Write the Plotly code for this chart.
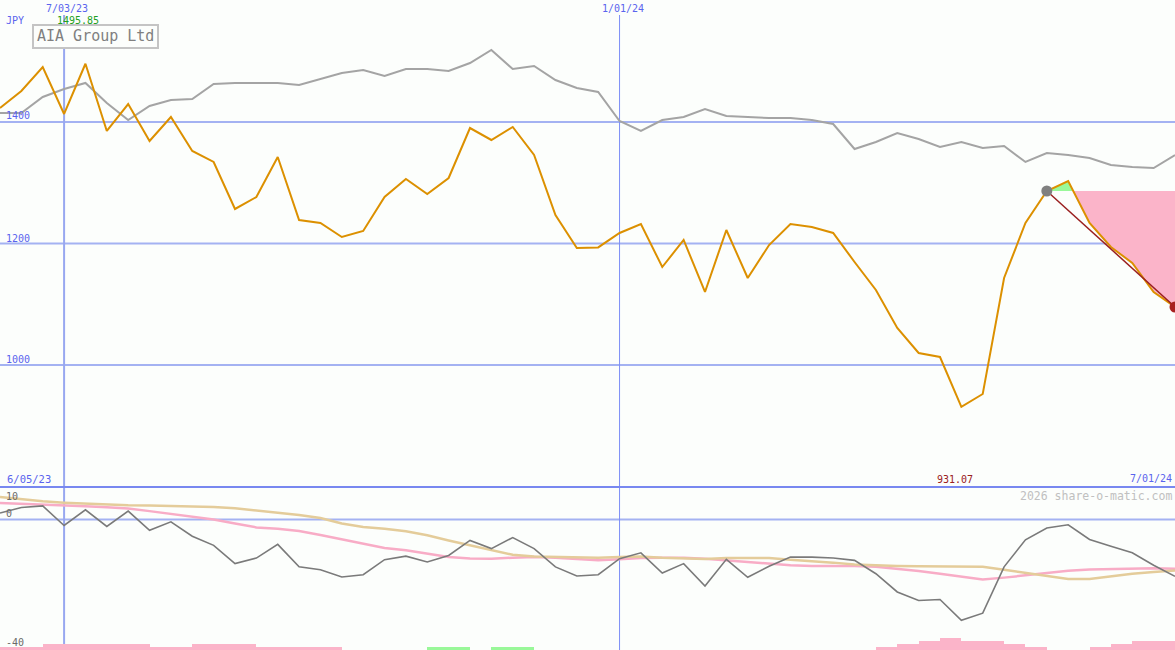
import plotly.graph_objects as go
import pandas as pd

# ---------------- data (weekly) ----------------
start_date = "2023-06-12"
n_weeks = 56
dates = pd.date_range(start_date, periods=n_weeks, freq="7D")

price = [1423.0, 1451.0, 1490.5, 1413.2, 1495.85, 1385.2, 1429.6, 1368.7, 1408.2, 1352.3,
         1334.2, 1256.8, 1276.5, 1342.4, 1238.7, 1233.8, 1210.7, 1220.6, 1276.5, 1306.2,
         1281.5, 1307.8, 1390.1, 1370.4, 1391.8, 1345.7, 1246.9, 1192.6, 1193.5, 1217.3,
         1232.1, 1161.3, 1205.8, 1120.2, 1222.2, 1143.2, 1197.5, 1232.1, 1227.2, 1217.3,
         1169.6, 1123.5, 1060.9, 1019.8, 1013.2, 931.07, 952.3, 1143.2, 1233.8, 1286.4,
         1302.9, 1233.8, 1194.3, 1167.9, 1120.2, 1095.5]

relative = [1414.8, 1414.8, 1441.2, 1454.3, 1464.2, 1431.3, 1403.3, 1426.3, 1436.2, 1437.9,
            1462.5, 1464.2, 1464.2, 1464.2, 1460.9, 1470.8, 1480.7, 1485.6, 1475.7, 1487.2,
            1487.2, 1483.9, 1497.1, 1518.5, 1487.2, 1492.2, 1469.1, 1456.0, 1449.4, 1401.6,
            1385.2, 1403.3, 1408.2, 1421.4, 1409.9, 1408.2, 1406.6, 1406.6, 1403.3, 1396.7,
            1355.6, 1367.1, 1381.9, 1372.0, 1358.9, 1367.1, 1357.2, 1360.5, 1334.2, 1349.0,
            1345.7, 1340.7, 1329.2, 1325.9, 1324.3, 1345.7]

momentum = [2.0, 3.7, 4.2, -1.8, 3.0, -2.1, 2.6, -3.3, -0.7, -5.1,
            -7.9, -13.5, -11.8, -7.6, -14.5, -15.4, -17.6, -16.9, -12.3, -11.2,
            -13.0, -11.0, -6.4, -8.9, -5.5, -8.9, -14.5, -17.3, -16.9, -12.0,
            -10.2, -16.4, -13.5, -20.4, -12.2, -17.7, -14.3, -11.5, -11.5, -11.8,
            -12.5, -16.6, -22.2, -24.8, -24.5, -30.9, -28.7, -14.5, -6.2, -2.6,
            -1.6, -6.1, -8.2, -10.2, -14.0, -17.4]

ma_fast = [5.1, 4.9, 4.6, 4.4, 4.1, 3.8, 3.4, 2.6, 1.8, 0.8,
           0.0, -1.2, -2.4, -2.8, -3.5, -4.7, -6.1, -7.5, -8.7, -9.4,
           -10.4, -11.5, -11.9, -12.0, -11.7, -11.5, -11.7, -12.2, -12.5, -12.2,
           -11.8, -11.7, -11.7, -12.0, -12.5, -13.0, -13.5, -14.0, -14.2, -14.2,
           -14.2, -14.5, -15.1, -15.8, -16.6, -17.6, -18.4, -17.8, -17.1, -16.3,
           -15.7, -15.3, -15.1, -14.9, -14.9, -15.1]

ma_slow = [6.9, 6.2, 5.6, 5.2, 4.9, 4.6, 4.4, 4.3, 4.2, 4.1,
           3.9, 3.5, 2.8, 2.2, 1.4, 0.5, -1.2, -2.3, -2.8, -3.6,
           -4.8, -6.4, -7.9, -9.4, -10.8, -11.3, -11.5, -11.7, -11.7, -11.5,
           -11.3, -11.7, -12.0, -12.1, -11.8, -11.7, -11.8, -12.3, -12.7, -13.2,
           -13.8, -14.1, -14.2, -14.3, -14.3, -14.4, -14.5, -15.4, -16.4, -17.4,
           -18.2, -18.2, -17.4, -16.6, -16.1, -15.6]

# signed histogram levels: positive = green, negative = pink
hist = [-1, -1, -2, -2, -2, -2, -2, -1, -1, -2,
        -2, -2, -1, -1, -1, -1, 0, 0, 0, 0,
        1, 1, 0, 1, 1, 0, 0, 0, 0, 0,
        0, 0, 0, 0, 0, 0, 0, 0, 0, 0,
        0, -1, -2, -3, -4, -3, -3, -2, -1, 0,
        0, -1, -2, -3, -3, 0]

ref_index = 49          # start of the projection segment
tick_dates = ["2023-07-03", "2024-01-01"]
tick_labels = ["7/03/23", "1/01/24"]
tick_widths = [2, 1]
tick_colors = ["#98a8f0", "#7c8ef6"]
edge_labels = ["6/05/23", "7/01/24"]
price_ticks = [1400, 1200, 1000]
lower_ticks = [10, 0, -40]
currency = "JPY"
title = "AIA Group Ltd"
credit = "2026 share-o-matic.com"

# ---------------- layout helpers ----------------
W, H = 1175, 650
split = 163 / H
BG = "#fcfefc"
BLUE_TXT = "#5a64ee"
GRID = "#a4b2f2"
MONO = "DejaVu Sans Mono"


def px(x):
    return x / W


def py(y):
    return 1 - y / H


def label(text, x, y, color, size=10, xanchor="left", xref="paper"):
    return dict(text=text, x=x if xref != "paper" else px(x), y=py(y),
                xref=xref, yref="paper", xanchor=xanchor, yanchor="middle",
                showarrow=False, borderpad=0,
                font=dict(family=MONO, size=size, color=color))


fig = go.Figure()

# ---------- projection fills (green above / pink below the reference level) ----------
level = price[ref_index]
seg_x = list(dates[ref_index:])
seg_y = price[ref_index:]
aug_x, aug_y = [seg_x[0]], [seg_y[0]]
for i in range(1, len(seg_x)):
    a, b = seg_y[i - 1] - level, seg_y[i] - level
    if a * b < 0:
        t = a / (a - b)
        aug_x.append(seg_x[i - 1] + (seg_x[i] - seg_x[i - 1]) * t)
        aug_y.append(level)
    aug_x.append(seg_x[i])
    aug_y.append(seg_y[i])

up_y = [max(v, level) for v in aug_y]
dn_y = [min(v, level) for v in aug_y]
back_x = aug_x[::-1]
fig.add_trace(go.Scatter(x=aug_x + back_x, y=dn_y + [level] * len(aug_x),
                         fill="toself", fillcolor="#fbb4c9", mode="none",
                         hoverinfo="skip", showlegend=False))
fig.add_trace(go.Scatter(x=aug_x + back_x, y=up_y + [level] * len(aug_x),
                         fill="toself", fillcolor="#99f899", mode="none",
                         hoverinfo="skip", showlegend=False))

# ---------- main panel lines ----------
fig.add_trace(go.Scatter(x=dates, y=relative, mode="lines",
                         line=dict(color="#a4a4a4", width=2), showlegend=False))
fig.add_trace(go.Scatter(x=dates, y=price, mode="lines",
                         line=dict(color="#dc9000", width=2), showlegend=False))
fig.add_trace(go.Scatter(x=[dates[ref_index], dates[-1]],
                         y=[price[ref_index], price[-1]], mode="lines",
                         line=dict(color="#9a2020", width=1.5), showlegend=False))
fig.add_trace(go.Scatter(x=[dates[ref_index]], y=[price[ref_index]], mode="markers",
                         marker=dict(color="#808080", size=11), showlegend=False))
fig.add_trace(go.Scatter(x=[dates[-1]], y=[price[-1]], mode="markers",
                         marker=dict(color="#a82020", size=11), showlegend=False,
                         cliponaxis=False))

# ---------- lower panel ----------
fig.add_trace(go.Bar(x=dates, y=[abs(v) for v in hist], yaxis="y3",
                     offset=0, width=7 * 86400000,
                     marker=dict(color=["#99f899" if v > 0 else "#fbb4c9" for v in hist],
                                 line=dict(width=0)),
                     showlegend=False))
fig.add_trace(go.Scatter(x=dates, y=ma_fast, yaxis="y2", mode="lines",
                         line=dict(color="#f8acc6", width=2.5), showlegend=False))
fig.add_trace(go.Scatter(x=dates, y=ma_slow, yaxis="y2", mode="lines",
                         line=dict(color="#e4cc9a", width=2.5), showlegend=False))
fig.add_trace(go.Scatter(x=dates, y=momentum, yaxis="y2", mode="lines",
                         line=dict(color="#7a7a7a", width=1.6), showlegend=False))

# ---------- shapes ----------
shapes = []
for v in price_ticks:
    shapes.append(dict(type="line", xref="paper", yref="y", x0=0, x1=1, y0=v, y1=v,
                       line=dict(color=GRID, width=2), layer="below"))
shapes.append(dict(type="line", xref="paper", yref="y2", x0=0, x1=1, y0=0, y1=0,
                   line=dict(color=GRID, width=2), layer="below"))
for d, w, c in zip(tick_dates, tick_widths, tick_colors):
    shapes.append(dict(type="line", xref="x", yref="paper", x0=d, x1=d, y0=0, y1=py(15),
                       line=dict(color=c, width=w), layer="below"))
shapes.append(dict(type="line", xref="paper", yref="paper", x0=0, x1=1,
                   y0=split, y1=split, line=dict(color="#7888f0", width=2), layer="above"))
# title box
shapes.append(dict(type="rect", xref="paper", yref="paper",
                   x0=px(33), x1=px(158), y0=py(48), y1=py(25),
                   fillcolor=BG, line=dict(color="#c4c4c4", width=2), layer="above"))

# ---------- annotations ----------
ann = []
ann.append(label(title, 95.5, 36.5, "#808080", size=15, xanchor="center"))
ann.append(label(currency, 5, 21, BLUE_TXT))
for d, t in zip(tick_dates, tick_labels):
    ann.append(label(t, pd.Timestamp(d) + pd.Timedelta(days=1), 8.5, BLUE_TXT,
                     xanchor="center", xref="x"))
imax = price.index(max(price))
imin = price.index(min(price))
ann.append(label(f"{price[imax]:.2f}", 77.5, 21, "#22a022", xanchor="center"))
ann.append(label(f"{price[imin]:.2f}", 954.5, 479, "#9a2020", xanchor="center"))
for v, yy in zip(price_ticks, [116, 238, 359.5]):
    ann.append(label(str(v), 5, yy, BLUE_TXT))
ann.append(label(edge_labels[0], 6, 478.5, BLUE_TXT, size=10.5))
ann.append(label(edge_labels[1], 1173, 478.5, BLUE_TXT, xanchor="right"))
ann.append(label(credit, 1173, 496, "#c0c0c0", size=11.5, xanchor="right"))
for v, yy in zip(lower_ticks, [496.5, 513.5, 642]):
    ann.append(label(str(v), 5, yy, "#6a6a6a"))

fig.update_layout(
    width=W, height=H,
    margin=dict(l=0, r=0, t=0, b=0),
    paper_bgcolor=BG, plot_bgcolor=BG,
    showlegend=False,
    bargap=0,
    xaxis=dict(range=[dates[0], dates[-1]], visible=False, showgrid=False,
               zeroline=False, anchor="y2"),
    yaxis=dict(domain=[split, 1], range=[799.2, 1600.8], visible=False,
               showgrid=False, zeroline=False),
    yaxis2=dict(domain=[0, split], range=[-40, 10], visible=False,
                showgrid=False, zeroline=False),
    yaxis3=dict(domain=[0, split], range=[0, 163 / 3], overlaying="y2",
                visible=False, showgrid=False, zeroline=False),
    shapes=shapes,
    annotations=ann,
)

fig.write_html(
    "out.html",
    config={"displayModeBar": False},
    post_script="document.body.style.margin='0';document.body.style.overflow='hidden';"
                "document.body.style.background='" + BG + "';",
)
